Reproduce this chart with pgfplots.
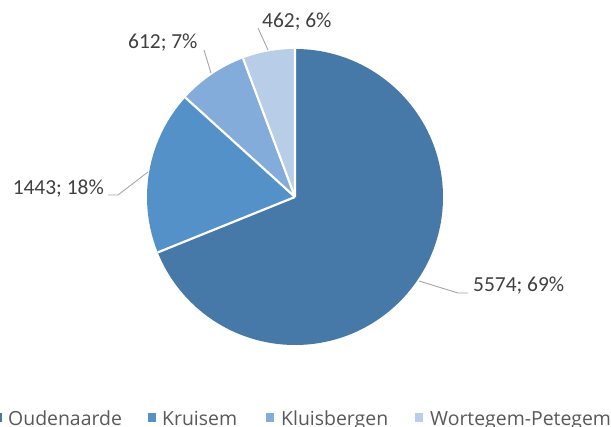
\documentclass[border=0pt]{standalone}
\usepackage{pgfplots}
\pgfplotsset{compat=1.18}
\usepackage{fontspec}
\setmainfont{Carlito}
\newfontfamily\legfont{Open Sans}
\definecolor{sliceA}{HTML}{4679A8}
\definecolor{sliceB}{HTML}{5591C9}
\definecolor{sliceC}{HTML}{84ACDA}
\definecolor{sliceD}{HTML}{B7CDE8}
\definecolor{labtext}{HTML}{404040}
\definecolor{legtext}{HTML}{595959}
\definecolor{leader}{HTML}{A6A6A6}

\begin{document}
\begin{tikzpicture}
% values: Oudenaarde, Kruisem, Kluisbergen, Wortegem-Petegem
\pgfmathsetmacro\tot{5574+1443+612+462}
\pgfmathsetmacro\aA{90}
\pgfmathsetmacro\aB{\aA-360*(5574/\tot)}
\pgfmathsetmacro\aC{\aB-360*(1443/\tot)}
\pgfmathsetmacro\aD{\aC-360*(612/\tot)}
\pgfmathsetmacro\aE{\aD-360*(462/\tot)}
\def\R{148bp}
\begin{axis}[
    width=611bp, height=427bp,
    scale only axis,
    xmin=0, xmax=611,
    ymin=0, ymax=427,
    hide axis,
    clip=false,
  ]
  % slices, clockwise from 12 o'clock
  \fill[sliceA] (axis cs:295,230) -- ++(\aA:\R) arc[start angle=\aA, end angle=\aB, radius=\R] -- cycle;
  \fill[sliceB] (axis cs:295,230) -- ++(\aB:\R) arc[start angle=\aB, end angle=\aC, radius=\R] -- cycle;
  \fill[sliceC] (axis cs:295,230) -- ++(\aC:\R) arc[start angle=\aC, end angle=\aD, radius=\R] -- cycle;
  \fill[sliceD] (axis cs:295,230) -- ++(\aD:\R) arc[start angle=\aD, end angle=\aE, radius=\R] -- cycle;
  \draw[white, line width=2.2bp, line join=round]
    (axis cs:295,230) -- ++(\aA:\R)
    (axis cs:295,230) -- ++(\aB:\R)
    (axis cs:295,230) -- ++(\aC:\R)
    (axis cs:295,230) -- ++(\aD:\R);
  % leader lines
  \draw[leader, line width=0.9bp] (axis cs:258,399) -- (axis cs:268,377);
  \draw[leader, line width=0.9bp] (axis cs:204,377) -- (axis cs:211,354);
  \draw[leader, line width=0.9bp] (axis cs:108,232) -- (axis cs:118,232) -- (axis cs:148,255);
  \draw[leader, line width=0.9bp] (axis cs:419,146) -- (axis cs:458,134) -- (axis cs:468,134);
  % data labels
  \begin{scope}[every node/.style={inner sep=0pt, text=labtext, font=\fontsize{21.5}{24}\selectfont}]
    \node[anchor=west] at (axis cs:262,405) {462; 6\%};
    \node[anchor=west] at (axis cs:128,384) {612; 7\%};
    \node[anchor=east] at (axis cs:104,238) {1443; 18\%};
    \node[anchor=west] at (axis cs:473,141) {5574; 69\%};
  \end{scope}
  % legend
  \fill[sliceA] (axis cs:-6,5) rectangle (axis cs:2,13.5);
  \fill[sliceB] (axis cs:148,5) rectangle (axis cs:156,13.5);
  \fill[sliceC] (axis cs:266,5) rectangle (axis cs:274,13.5);
  \fill[sliceD] (axis cs:415,5) rectangle (axis cs:423,13.5);
  \begin{scope}[every node/.style={inner sep=0pt, anchor=base west, text=legtext, font=\legfont\fontsize{19.5}{22}\selectfont}]
    \node at (axis cs:8,2) {Oudenaarde};
    \node at (axis cs:162,2) {Kruisem};
    \node at (axis cs:281,2) {Kluisbergen};
    \node at (axis cs:430,2) {Wortegem-Petegem};
  \end{scope}
\end{axis}
\pgfresetboundingbox
\useasboundingbox (0,0) rectangle (611bp,427bp);
\end{tikzpicture}
\end{document}
